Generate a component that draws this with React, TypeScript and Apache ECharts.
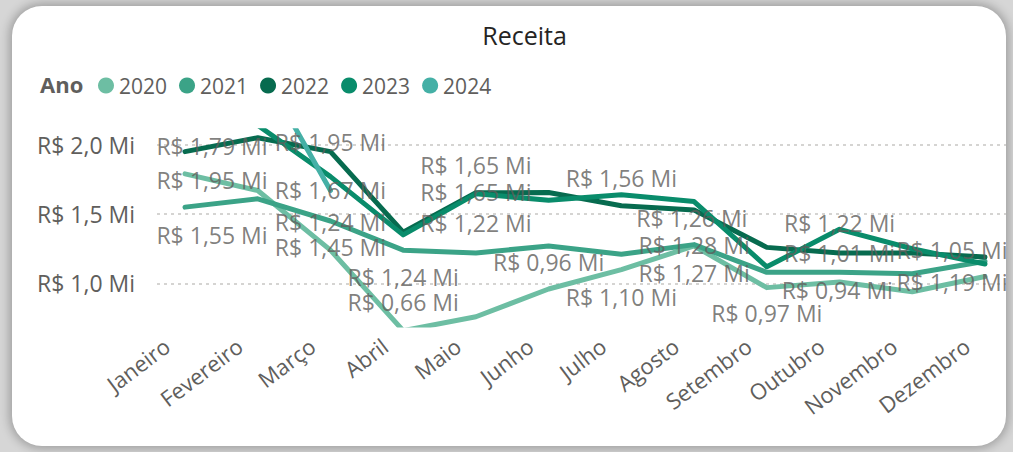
import React, { useEffect, useRef } from "react";
import * as echarts from "echarts";

const months = ["Janeiro", "Fevereiro", "Março", "Abril", "Maio", "Junho", "Julho", "Agosto", "Setembro", "Outubro", "Novembro", "Dezembro"];
const years = ["2020", "2021", "2022", "2023", "2024"];
const v2020 = [1.79, 1.67, 1.24, 0.66, 0.76, 0.96, 1.1, 1.27, 0.97, 1.01, 0.94, 1.05];
const v2021 = [1.55, 1.61, 1.45, 1.24, 1.22, 1.27, 1.21, 1.28, 1.08, 1.08, 1.07, 1.16];
const v2022 = [1.95, 2.05, 1.95, 1.37, 1.654, 1.655, 1.56, 1.53, 1.26, 1.22, 1.22, 1.19];
const v2023 = [2.3, 2.14, 1.77, 1.35, 1.646, 1.6, 1.64, 1.59, 1.12, 1.39, 1.25, 1.14];
const v2024 = [2.5, 2.6, 1.67, null, null, null, null, null, null, null, null, null];
const yTicks = [1.0, 1.5, 2.0];

const seriesValues = [v2020, v2021, v2022, v2023, v2024];
const colors = ["#6DBEA3", "#3BA387", "#076B4F", "#098C6B", "#45B0A6"];

// label placement (style only): [monthIndex, dx, dy]
const labelPlacement: number[][][] = [
  [[0, 27, -28], [2, 0, -28], [3, 0, -29], [5, 0, -27], [6, 0, 27], [7, 0, 27], [8, 0, 25], [9, 0, -29], [10, -75, -2], [11, -33, -27]],
  [[0, 27, 28], [2, 0, 26], [3, 0, 27], [4, 0, -30], [7, 0, 0]],
  [[0, 27, 28], [2, 0, -10], [4, 0, -28], [6, 0, -28], [8, -75, -29], [9, 0, -30], [11, -33, 25]],
  [[4, 0, -2]],
  [[2, 0, 0]],
];

const FONT = "'Segoe UI', 'Open Sans', sans-serif";
const GRAY = "#605E5C";

const fmt = (v: number) => "R$ " + v.toFixed(2).replace(".", ",") + " Mi";

export default function App() {
  const ref = useRef<HTMLDivElement>(null);
  useEffect(() => {
    if (!ref.current) return;
    const chart = echarts.init(ref.current, undefined, { renderer: "svg" });
    const lineSeries = years.map((y, k) => ({
      name: y,
      type: "line",
      data: seriesValues[k].map((v, i) => [i, v]).filter((d) => d[1] !== null),
      showSymbol: false,
      symbol: "none",
      lineStyle: { width: 5, color: colors[k], cap: "round", join: "round" },
      itemStyle: { color: colors[k] },
      clip: true,
      z: 2,
    }));
    const labelSeries = years.map((y, k) => ({
      name: y + " rótulos",
      type: "scatter",
      clip: false,
      silent: true,
      symbolSize: 1,
      itemStyle: { color: "rgba(0,0,0,0)" },
      z: 5,
      data: labelPlacement[k].map(([i, dx, dy]) => ({
        value: [i, seriesValues[k][i]],
        label: { show: true, offset: [dx, dy] },
      })),
      label: {
        show: true,
        position: "inside",
        formatter: (p: any) => fmt(p.value[1]),
        color: GRAY,
        fontSize: 23,
        fontFamily: FONT,
      },
    }));
    chart.setOption({
      animation: false,
      textStyle: { fontFamily: FONT },
      grid: { left: 157, right: 0, top: 130.8, bottom: 452 - 325.1, containLabel: false },
      xAxis: {
        type: "value",
        min: -0.385,
        max: 11.385,
        axisLine: { show: false },
        axisTick: { show: false },
        splitLine: { show: false },
        axisLabel: {
          customValues: months.map((_, i) => i),
          formatter: (v: number) => months[Math.round(v)],
          rotate: 37,
          margin: 4,
          color: GRAY,
          fontSize: 22,
          fontFamily: FONT,
          padding: [0, 23, 0, 0],
        },
      },
      yAxis: {
        type: "value",
        min: 0.7,
        max: 2.1,
        axisLine: { show: false },
        axisTick: { show: false, customValues: yTicks },
        axisLabel: {
          customValues: yTicks,
          formatter: (v: number) => "R$ " + v.toFixed(1).replace(".", ",") + " Mi",
          color: GRAY,
          fontSize: 23,
          fontFamily: FONT,
          margin: 22,
        },
        splitLine: { show: true, lineStyle: { color: "#C8C6C4", width: 1.5, type: [3, 4] } },
      },
      legend: {
        data: years,
        left: 98,
        top: 75,
        padding: 0,
        icon: "circle",
        itemWidth: 16,
        itemHeight: 16,
        itemGap: 12,
        textStyle: { color: GRAY, fontSize: 21, fontFamily: FONT },
      },
      graphic: [
        {
          type: "text",
          left: 40,
          top: 73,
          style: { text: "Ano", fill: GRAY, font: `bold 22px ${FONT}` },
        },
        {
          type: "text",
          x: 524.5,
          y: 35,
          style: { text: "Receita", fill: "#252423", font: `25px ${FONT}`, align: "center", verticalAlign: "middle" },
        },
      ],
      series: [...lineSeries, ...labelSeries],
    });
    return () => chart.dispose();
  }, []);

  return (
    <div style={{ position: "fixed", left: 0, top: 0, width: 1013, height: 452, background: "#d6d6d6", overflow: "hidden" }}>
      <div
        style={{
          position: "absolute",
          left: 12,
          top: 6,
          width: 994,
          height: 440,
          borderRadius: 30,
          background: "#ffffff",
          overflow: "hidden",
          boxShadow: "0 0 10px 3px rgba(0,0,0,0.25)",
        }}
      >
        <div ref={ref} style={{ position: "absolute", left: -12, top: -6, width: 1013, height: 452 }} />
      </div>
    </div>
  );
}
